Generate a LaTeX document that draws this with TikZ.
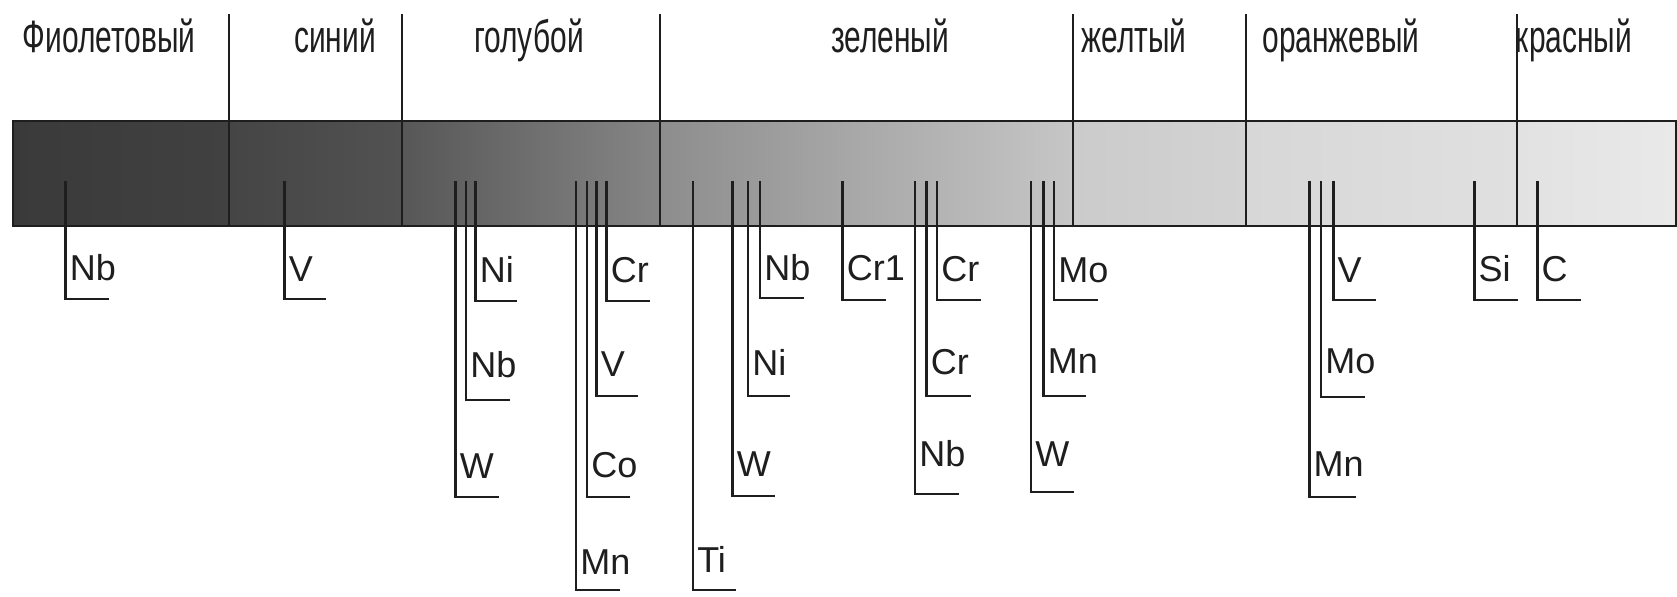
\documentclass[tikz,border=0pt]{standalone}
\usepackage{fontspec}
\setmainfont{Liberation Sans}
\newfontfamily\narrowfont[FakeStretch=0.66]{Liberation Sans}
\definecolor{ink}{HTML}{1E1E1E}
\definecolor{c1}{HTML}{3A3A3A}\definecolor{c2}{HTML}{414141}
\definecolor{c3}{HTML}{454545}\definecolor{c4}{HTML}{525252}
\definecolor{c5}{HTML}{575757}\definecolor{c6}{HTML}{868686}
\definecolor{c7}{HTML}{8D8D8D}\definecolor{c8}{HTML}{C6C6C6}
\definecolor{c9}{HTML}{CBCBCB}\definecolor{c10}{HTML}{D3D3D3}
\definecolor{c11}{HTML}{D7D7D7}\definecolor{c12}{HTML}{E0E0E0}
\definecolor{c13}{HTML}{E2E2E2}\definecolor{c14}{HTML}{E9E9E9}
\begin{document}
\begin{tikzpicture}[x=0.75pt,y=-0.75pt,
  lead/.style={draw=ink,line width=1.8pt},
  sepline/.style={draw=ink,line width=1.8pt},
  lbl/.style={anchor=base west,inner sep=0pt,text=ink,font=\fontsize{27}{30}\selectfont},
  zone/.style={anchor=base,inner sep=0pt,text=ink,font=\narrowfont\fontsize{34}{36}\selectfont}]
\useasboundingbox (0,0) rectangle (1677,596);
% bar shading
\shade[left color=c1,right color=c2] (13,121) rectangle (229,226);
\shade[left color=c3,right color=c4] (229,121) rectangle (402,226);
\shade[left color=c5,right color=c6] (402,121) rectangle (660,226);
\shade[left color=c7,right color=c8] (660,121) rectangle (1073,226);
\shade[left color=c9,right color=c10] (1073,121) rectangle (1246,226);
\shade[left color=c11,right color=c12] (1246,121) rectangle (1517,226);
\shade[left color=c13,right color=c14] (1517,121) rectangle (1676,226);
\draw[sepline] (13,121) rectangle (1676,226);
% zone separators
\foreach \n/\x in {a/229,b/402,c/660,d/1073,e/1246,f/1517}{
  \coordinate (s\n top) at (\x,14);
  \coordinate (s\n bot) at (\x,226);
  \draw[sepline] (s\n top) -- (s\n bot);
}
% zone names
\node[zone] (z1) at (109,52) {Фиолетовый};
\node[zone] (z2) at (335,52) {синий};
\node[zone] (z3) at (529,52) {голубой};
\node[zone] (z4) at (890,52) {зеленый};
\node[zone] (z5) at (1134,52) {желтый};
\node[zone] (z6) at (1341,52) {оранжевый};
\node[zone] (z7) at (1574,52) {красный};
% element leads
\foreach \n/\x/\yb/\xe/\lab/\yl in {
  1/65.5/299/109/Nb/280,
  2/284.5/299/326/V/281,
  3/475.5/301/517/Ni/282,
  4/466/400/510/Nb/377,
  5/455.5/497/499/W/478,
  6/606.5/301/650/Cr/282,
  7/596.5/396/638/V/376,
  8/587/497/630/Co/477,
  9/576/590/620/Mn/574,
  10/693/590/736/Ti/572,
  11/760/298/804/Nb/280,
  12/748/396/790/Ni/375,
  13/732.5/496/775/W/476,
  14/842.6/300/886/Cr1/280,
  15/937/300/981/Cr/281,
  16/926.6/396/971/Cr/374,
  17/915/494/959/Nb/466,
  18/1054/300/1098/Mo/282,
  19/1043.5/396/1086/Mn/373,
  20/1031/492/1074/W/466,
  21/1333.3/300/1376/V/282,
  22/1321/397/1365/Mo/373,
  23/1309.3/497/1356/Mn/476,
  24/1474.3/300/1518/Si/281,
  25/1537.3/300/1581/C/281}{
  \coordinate (t\n) at (\x,181);
  \coordinate (e\n) at (\xe,\yb);
  \draw[lead] (t\n) |- (e\n);
  \node[lbl] (l\n) at ({\x+4},\yl) {\lab};
}
\end{tikzpicture}
\end{document}
